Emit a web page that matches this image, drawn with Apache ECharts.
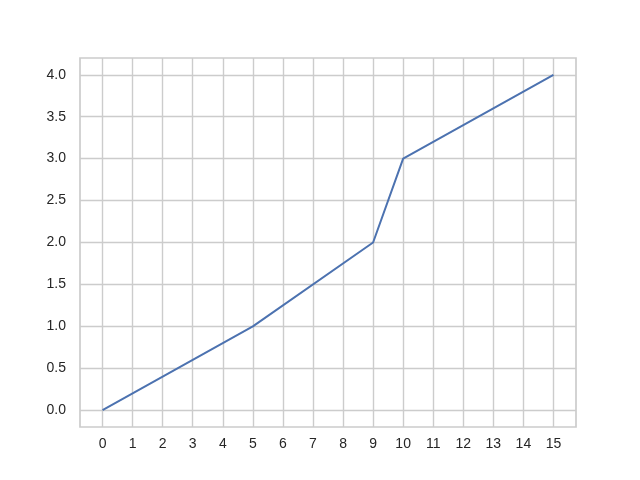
<!DOCTYPE html>
<html>
<head>
<meta charset="utf-8">
<script src="https://cdn.jsdelivr.net/npm/echarts@6/dist/echarts.min.js"></script>
<style>
  html, body { margin: 0; padding: 0; background: #fff; }
  #chart { width: 640px; height: 480px; }
</style>
</head>
<body>
<div id="chart"></div>
<script>
// vertices of the line
const xValues = [0, 5, 9, 10, 15]
const yValues = [0, 1, 2, 3, 4]
const xTicks = [0, 1, 2, 3, 4, 5, 6, 7, 8, 9, 10, 11, 12, 13, 14, 15]
const yTicks = [0, 0.5, 1, 1.5, 2, 2.5, 3, 3.5, 4]

const chart = echarts.init(document.getElementById('chart'))

const gridColor = '#cccccc'
const textColor = '#262626'
const font = 'Liberation Sans, Arial, sans-serif'

const option = {
  animation: false,
  grid: { left: 80, right: 64, top: 58, bottom: 53, show: false },
  xAxis: {
    type: 'value',
    min: -0.75,
    max: 15.75,
    axisLine: { show: false },
    axisTick: { show: false, customValues: xTicks },
    axisLabel: {
      customValues: xTicks,
      color: textColor,
      fontSize: 14,
      fontFamily: font,
      margin: 10
    },
    splitLine: { show: true, lineStyle: { color: gridColor, width: 1.4 } }
  },
  yAxis: {
    type: 'value',
    min: -0.2,
    max: 4.2,
    axisLine: { show: false },
    axisTick: { show: false, customValues: yTicks },
    axisLabel: {
      customValues: yTicks,
      color: textColor,
      fontSize: 14,
      fontFamily: font,
      margin: 14,
      formatter: v => v.toFixed(1)
    },
    splitLine: { show: true, lineStyle: { color: gridColor, width: 1.4 } }
  },
  graphic: [
    {
      type: 'rect',
      shape: { x: 80, y: 58, width: 496, height: 369 },
      style: { fill: null, stroke: gridColor, lineWidth: 1.7 },
      silent: true,
      z: 10
    }
  ],
  series: [
    {
      type: 'line',
      data: xValues.map((x, i) => [x, yValues[i]]),
      showSymbol: false,
      lineStyle: { color: '#4c72b0', width: 2 },
      z: 20
    }
  ]
}

chart.setOption(option)
</script>
</body>
</html>
